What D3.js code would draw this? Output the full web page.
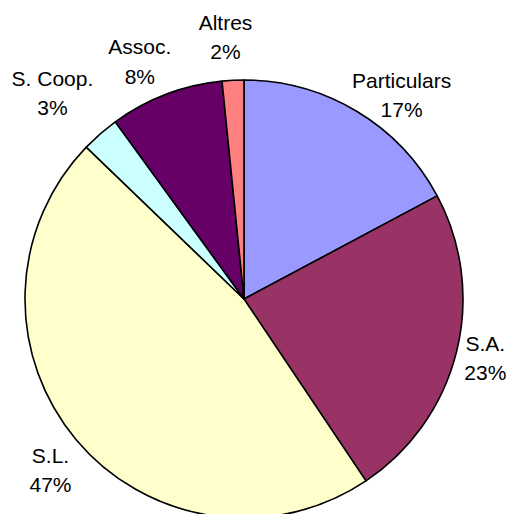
<!DOCTYPE html>
<html>
<head>
<meta charset="utf-8">
<script src="https://cdn.jsdelivr.net/npm/d3@7"></script>
<style>
  html, body { margin: 0; padding: 0; background: #ffffff; }
  svg { display: block; }
  text { font-family: "Liberation Sans", Arial, sans-serif; font-size: 21px; fill: #000; }
</style>
</head>
<body>
<svg id="chart" width="511" height="514"></svg>
<script>
// ---- data ----
const categories = ["Particulars", "S.A.", "S.L.", "S. Coop.", "Assoc.", "Altres"];
const values = [17.2, 23.4, 46.6, 2.8, 8.4, 1.6];
const colors = ["#9999FF", "#993366", "#FFFFCC", "#CCFFFF", "#660066", "#FF8080"];

// ---- layout ----
const W = 511, H = 514;
const cx = 244, cy = 299, r = 219;
// small manual label adjustments (px) relative to the computed outside-end position
const labelNudge = [[1, 11], [2, -4], [0, 4], [-3, -14], [-6, -5], [-5, -15]];

const svg = d3.select("#chart");
const g = svg.append("g").attr("transform", `translate(${cx},${cy})`);

const data = categories.map((c, i) => ({ name: c, value: values[i], color: colors[i] }));
const total = d3.sum(values);

const pie = d3.pie().value(d => d.value).sort(null);
const arcs = pie(data);
const arc = d3.arc().innerRadius(0).outerRadius(r);

g.selectAll("path.slice")
  .data(arcs)
  .enter().append("path")
  .attr("class", "slice")
  .attr("d", arc)
  .attr("fill", d => d.data.color)
  .attr("stroke", "#000")
  .attr("stroke-width", 1.6)
  .attr("stroke-linejoin", "round");

// ---- labels (outside end) ----
const pct = v => Math.round(v / total * 100) + "%";
const lineGap = 29.5, capH = 15;
const anchorR = r + 6;
const clamp = v => Math.max(-1, Math.min(1, v));

arcs.forEach((a, i) => {
  const mid = (a.startAngle + a.endAngle) / 2;
  const ux = Math.sin(mid), uy = -Math.cos(mid);
  const t = g.append("text").attr("text-anchor", "middle");
  const l1 = t.append("tspan").attr("x", 0).attr("y", 0).text(a.data.name);
  const l2 = t.append("tspan").attr("x", 0).attr("y", lineGap).text(pct(a.data.value));
  const w = Math.max(l1.node().getComputedTextLength(), l2.node().getComputedTextLength());
  const h = capH + lineGap;
  const ax = ux * anchorR, ay = uy * anchorR;
  const bx = ax + (w / 2) * clamp(ux * 1.6) + labelNudge[i][0];
  const by = ay + (h / 2) * clamp(uy * 1.6) + labelNudge[i][1];
  const b1 = by - h / 2 + capH;
  t.attr("transform", `translate(${bx},${b1})`);
});
</script>
</body>
</html>
